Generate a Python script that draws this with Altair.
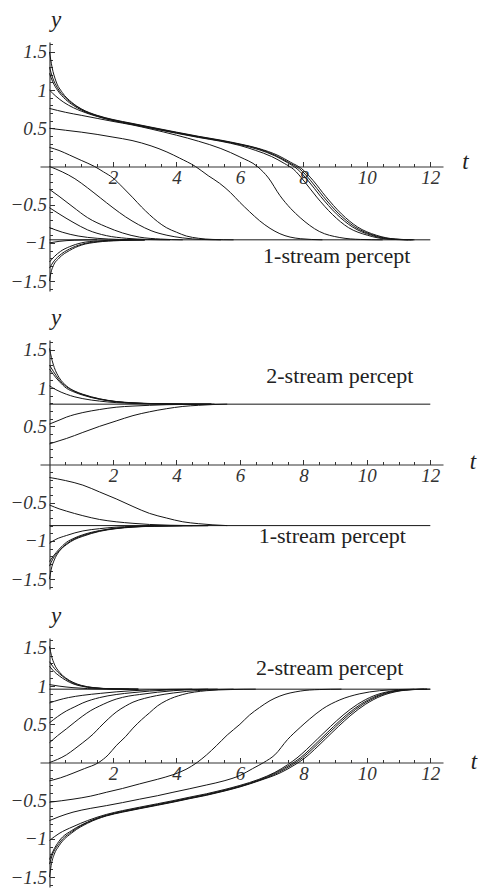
import altair as alt
import pandas as pd

# ------------------------------------------------------------------ data
# Panel 1 : drift towards the 1-stream percept (y ~ -0.96)
P1_EQ = [(0, -0.96), (12, -0.96)]
P1_A = [(0, 1.5), (0.08, 1.3), (0.2, 1.12), (0.4, 0.97), (0.7, 0.84), (1.0, 0.755), (1.5, 0.67), (2.0, 0.615),
        (2.6, 0.565), (3.2, 0.515), (4.0, 0.45), (4.7, 0.395), (5.4, 0.345), (6.0, 0.295), (6.6, 0.235),
        (7.2, 0.145), (7.6, 0.055), (7.95, -0.03), (8.3, -0.18), (8.7, -0.39), (9.2, -0.62), (9.7, -0.79),
        (10.3, -0.9), (10.9, -0.95), (11.5, -0.96)]
P1_B = [(0, 1.3), (0.1, 1.16), (0.25, 1.03), (0.5, 0.9), (0.75, 0.815), (1.0, 0.75), (1.5, 0.665), (2.0, 0.61),
        (2.6, 0.56), (3.2, 0.51), (4.0, 0.445), (4.7, 0.39), (5.4, 0.34), (6.0, 0.29), (6.6, 0.23),
        (7.15, 0.14), (7.55, 0.05), (7.88, -0.03), (8.22, -0.18), (8.62, -0.39), (9.12, -0.62), (9.62, -0.79),
        (10.22, -0.9), (10.82, -0.95), (11.45, -0.96)]
P1_C = [(0, 1.22), (0.1, 1.11), (0.25, 1.0), (0.5, 0.88), (0.75, 0.8), (1.0, 0.74), (1.5, 0.66), (2.0, 0.605),
        (2.6, 0.555), (3.2, 0.505), (4.0, 0.44), (4.7, 0.385), (5.4, 0.335), (6.0, 0.285), (6.6, 0.22),
        (7.1, 0.14), (7.5, 0.05), (7.8, -0.03), (8.14, -0.18), (8.54, -0.39), (9.04, -0.62), (9.54, -0.79),
        (10.14, -0.9), (10.74, -0.95), (11.4, -0.96)]
P1_D = [(0, 1.0), (0.2, 0.92), (0.45, 0.84), (0.75, 0.77), (1.0, 0.725), (1.5, 0.655), (2.0, 0.6), (2.6, 0.55),
        (3.2, 0.5), (4.0, 0.435), (4.7, 0.38), (5.4, 0.33), (6.0, 0.275), (6.5, 0.21), (7.0, 0.13), (7.4, 0.04),
        (7.7, -0.04), (8.02, -0.19), (8.42, -0.4), (8.92, -0.63), (9.42, -0.8), (10.02, -0.9), (10.62, -0.95),
        (11.3, -0.96)]
P1_E = [(0, 0.76), (0.5, 0.71), (1.0, 0.67), (1.5, 0.63), (2.0, 0.59), (2.6, 0.545), (3.2, 0.49), (4.0, 0.41),
        (4.7, 0.33), (5.4, 0.235), (6.0, 0.125), (6.55, 0.0), (6.9, -0.15), (7.26, -0.38), (7.6, -0.55),
        (7.9, -0.67), (8.5, -0.85), (9.15, -0.93), (9.8, -0.955), (10.5, -0.96)]
P1_F = [(0, 0.5), (0.5, 0.475), (1.0, 0.45), (1.5, 0.42), (2.0, 0.385), (2.6, 0.34), (3.2, 0.27), (3.7, 0.19),
        (4.1, 0.11), (4.6, 0.0), (5.0, -0.12), (5.36, -0.22), (5.7, -0.34), (6.0, -0.47), (6.3, -0.59),
        (6.62, -0.71), (6.95, -0.81), (7.26, -0.88), (7.9, -0.945), (8.6, -0.96)]
P1_G = [(0, 0.25), (0.3, 0.21), (0.63, 0.15), (1.0, 0.08), (1.42, 0.0), (1.7, -0.07), (2.0, -0.15),
        (2.3, -0.27), (2.63, -0.41), (2.9, -0.53), (3.15, -0.63), (3.4, -0.72), (3.68, -0.8), (4.0, -0.86),
        (4.31, -0.91), (4.7, -0.94), (5.15, -0.955), (5.8, -0.96)]
P1_H = [(0, 0.0), (0.4, -0.07), (0.8, -0.16), (1.2, -0.28), (1.6, -0.41), (2.0, -0.54), (2.4, -0.66),
        (2.8, -0.76), (3.2, -0.84), (3.7, -0.9), (4.2, -0.935), (4.8, -0.955), (5.4, -0.96)]
P1_I = [(0, -0.3), (0.3, -0.39), (0.74, -0.53), (1.2, -0.67), (1.79, -0.79), (2.3, -0.87), (2.84, -0.925),
        (3.5, -0.95), (4.2, -0.96)]
P1_J = [(0, -0.54), (0.3, -0.62), (0.74, -0.73), (1.2, -0.83), (1.79, -0.905), (2.42, -0.94), (3.1, -0.955),
        (3.8, -0.96)]
P1_K = [(0, -0.8), (0.4, -0.86), (0.9, -0.91), (1.5, -0.94), (2.2, -0.955), (3.0, -0.96)]
P1_L = [(0, -1.0), (0.3, -0.98), (0.8, -0.965), (1.5, -0.96)]
P1_M = [(0, -1.25), (0.15, -1.18), (0.35, -1.11), (0.63, -1.05), (1.0, -1.0), (1.5, -0.975), (2.2, -0.963),
        (3.0, -0.96)]
P1_N = [(0, -1.33), (0.12, -1.25), (0.3, -1.17), (0.63, -1.08), (1.0, -1.02), (1.5, -0.983), (2.2, -0.966),
        (3.0, -0.96)]
P1_O = [(0, -1.5), (0.04, -1.4), (0.12, -1.3), (0.3, -1.2), (0.63, -1.1), (1.0, -1.03), (1.5, -0.99),
        (2.2, -0.97), (3.0, -0.96)]

# Panel 2 : two stable percepts (y ~ +0.79 and y ~ -0.80)
P2_EQ_UP = [(0, 0.79), (12, 0.79)]
P2_EQ_DN = [(0, -0.8), (12, -0.8)]
P2_A = [(0, 1.52), (0.06, 1.4), (0.15, 1.27), (0.3, 1.14), (0.53, 1.03), (0.8, 0.96), (1.05, 0.92),
        (1.58, 0.86), (2.1, 0.825), (2.63, 0.808), (3.3, 0.797), (4.2, 0.792), (5.1, 0.79)]
P2_B = [(0, 1.3), (0.12, 1.22), (0.3, 1.11), (0.53, 1.02), (0.8, 0.955), (1.05, 0.915), (1.58, 0.857),
        (2.1, 0.823), (2.63, 0.806), (3.3, 0.796), (4.2, 0.791), (5.1, 0.79)]
P2_C = [(0, 1.25), (0.12, 1.18), (0.3, 1.09), (0.53, 1.0), (0.8, 0.945), (1.05, 0.908), (1.58, 0.853),
        (2.1, 0.82), (2.63, 0.805), (3.3, 0.795), (4.2, 0.791), (5.1, 0.79)]
P2_D = [(0, 1.03), (0.2, 0.98), (0.53, 0.92), (0.8, 0.885), (1.05, 0.862), (1.58, 0.83), (2.1, 0.81),
        (2.63, 0.8), (3.3, 0.794), (4.2, 0.79)]
P2_E = [(0, 0.53), (0.3, 0.58), (0.53, 0.62), (0.8, 0.655), (1.05, 0.68), (1.58, 0.72), (2.1, 0.75),
        (2.63, 0.765), (3.15, 0.775), (3.7, 0.783), (4.5, 0.788), (5.2, 0.79)]
P2_F = [(0, 0.27), (0.3, 0.31), (0.53, 0.34), (1.05, 0.42), (1.58, 0.5), (2.1, 0.57), (2.63, 0.64),
        (3.15, 0.69), (3.68, 0.73), (4.2, 0.76), (4.7, 0.775), (5.15, 0.785), (5.6, 0.79)]
P2_G = [(0, -0.17), (0.5, -0.21), (1.05, -0.27), (1.58, -0.36), (2.1, -0.45), (2.63, -0.55), (3.15, -0.64),
        (3.68, -0.7), (4.2, -0.75), (4.7, -0.775), (5.15, -0.79), (5.6, -0.8)]
P2_H = [(0, -0.53), (0.3, -0.58), (0.53, -0.61), (1.05, -0.67), (1.58, -0.72), (2.1, -0.75), (2.63, -0.77),
        (3.15, -0.785), (3.8, -0.795), (4.5, -0.8)]
P2_I = [(0, -1.03), (0.2, -0.98), (0.53, -0.93), (0.8, -0.895), (1.05, -0.87), (1.58, -0.84), (2.1, -0.82),
        (2.63, -0.81), (3.3, -0.803), (4.2, -0.8)]
P2_J = [(0, -1.27), (0.12, -1.2), (0.3, -1.11), (0.53, -1.02), (0.8, -0.96), (1.05, -0.92), (1.58, -0.865),
        (2.1, -0.833), (2.63, -0.815), (3.3, -0.806), (4.2, -0.801), (5.0, -0.8)]
P2_K = [(0, -1.33), (0.1, -1.24), (0.3, -1.13), (0.53, -1.04), (0.8, -0.97), (1.05, -0.93), (1.58, -0.87),
        (2.1, -0.836), (2.63, -0.817), (3.3, -0.807), (4.2, -0.801), (5.0, -0.8)]
P2_L = [(0, -1.5), (0.05, -1.38), (0.15, -1.25), (0.3, -1.14), (0.53, -1.05), (0.8, -0.98), (1.05, -0.94),
        (1.58, -0.875), (2.1, -0.84), (2.63, -0.82), (3.3, -0.808), (4.2, -0.802), (5.0, -0.8)]

# Panel 3 : drift towards the 2-stream percept (y ~ +0.96)
P3_EQ = [(0, 0.96), (12, 0.96)]
P3_A = [(0, 1.52), (0.06, 1.4), (0.15, 1.29), (0.32, 1.18), (0.5, 1.11), (0.74, 1.05), (1.0, 1.01),
        (1.4, 0.98), (2.0, 0.965), (2.8, 0.96)]
P3_B = [(0, 1.32), (0.1, 1.26), (0.32, 1.16), (0.5, 1.1), (0.74, 1.04), (1.0, 1.005), (1.4, 0.978),
        (2.0, 0.964), (2.8, 0.96)]
P3_C = [(0, 1.26), (0.1, 1.21), (0.32, 1.13), (0.5, 1.08), (0.74, 1.03), (1.0, 1.0), (1.4, 0.975),
        (2.0, 0.963), (2.8, 0.96)]
P3_D = [(0, 1.02), (0.3, 1.0), (0.74, 0.98), (1.2, 0.968), (1.8, 0.962), (2.5, 0.96)]
P3_E = [(0, 0.78), (0.3, 0.82), (0.6, 0.85), (1.05, 0.88), (1.6, 0.905), (2.1, 0.925), (2.6, 0.94),
        (3.15, 0.95), (3.8, 0.957), (4.5, 0.96)]
P3_F = [(0, 0.52), (0.25, 0.6), (0.53, 0.675), (0.8, 0.73), (1.05, 0.78), (1.58, 0.85), (2.1, 0.89),
        (2.63, 0.915), (3.15, 0.935), (3.68, 0.948), (4.3, 0.956), (5.0, 0.96)]
P3_G = [(0, 0.26), (0.25, 0.35), (0.53, 0.44), (0.8, 0.53), (1.05, 0.61), (1.3, 0.68), (1.58, 0.74),
        (2.1, 0.83), (2.5, 0.87), (2.84, 0.89), (3.4, 0.92), (3.9, 0.94), (4.6, 0.955), (5.3, 0.96)]
P3_H = [(0, 0.0), (0.25, 0.04), (0.53, 0.1), (0.8, 0.18), (1.05, 0.26), (1.37, 0.37), (1.58, 0.46),
        (1.85, 0.57), (2.1, 0.66), (2.4, 0.74), (2.63, 0.79), (3.0, 0.84), (3.37, 0.875), (3.9, 0.91),
        (4.31, 0.93), (5.0, 0.95), (5.8, 0.96)]
P3_I = [(0, -0.24), (0.35, -0.2), (0.74, -0.14), (1.1, -0.08), (1.55, 0.0), (1.85, 0.1), (2.1, 0.22),
        (2.4, 0.34), (2.63, 0.45), (2.9, 0.56), (3.15, 0.65), (3.4, 0.74), (3.68, 0.81), (4.2, 0.89),
        (4.94, 0.94), (5.7, 0.955), (6.5, 0.96)]
P3_J = [(0, -0.52), (0.74, -0.48), (1.3, -0.44), (1.79, -0.39), (2.3, -0.34), (2.84, -0.28), (3.4, -0.22),
        (3.89, -0.16), (4.3, -0.09), (4.65, 0.0), (4.95, 0.1), (5.26, 0.22), (5.6, 0.36), (6.0, 0.5),
        (6.3, 0.62), (6.62, 0.72), (6.95, 0.81), (7.26, 0.87), (7.9, 0.935), (8.5, 0.955), (9.2, 0.96)]
P3_K = [(0, -0.76), (0.3, -0.71), (0.74, -0.65), (1.3, -0.6), (1.79, -0.565), (2.3, -0.525), (2.84, -0.48),
        (3.4, -0.435), (3.89, -0.39), (4.4, -0.345), (4.94, -0.295), (5.5, -0.24), (6.0, -0.17),
        (6.4, -0.08), (6.75, 0.0), (7.1, 0.1), (7.5, 0.3), (7.9, 0.46), (8.2, 0.57), (8.6, 0.7),
        (9.15, 0.82), (9.78, 0.9), (10.4, 0.94), (11.0, 0.955), (11.5, 0.96)]
P3_W = [(0, -1.02), (0.3, -0.93), (0.74, -0.84), (1.2, -0.76), (1.79, -0.68), (2.3, -0.63), (2.84, -0.585),
        (3.4, -0.54), (3.89, -0.5), (4.4, -0.455), (4.94, -0.41), (5.5, -0.355), (6.0, -0.3), (6.6, -0.22),
        (7.1, -0.13), (7.5, -0.03), (7.8, 0.06), (8.1, 0.17), (8.45, 0.31), (8.85, 0.47), (9.25, 0.62),
        (9.7, 0.76), (10.2, 0.87), (10.7, 0.93), (11.3, 0.955), (11.8, 0.96)]
P3_X = [(0, -1.27), (0.1, -1.17), (0.3, -1.03), (0.74, -0.88), (1.2, -0.78), (1.79, -0.69), (2.3, -0.64),
        (2.84, -0.595), (3.4, -0.55), (3.89, -0.51), (4.4, -0.465), (4.94, -0.42), (5.5, -0.365),
        (6.0, -0.31), (6.6, -0.23), (7.15, -0.13), (7.58, -0.03), (7.9, 0.06), (8.2, 0.17), (8.55, 0.31),
        (8.95, 0.47), (9.35, 0.62), (9.8, 0.76), (10.3, 0.87), (10.8, 0.93), (11.4, 0.955), (11.9, 0.96)]
P3_Y = [(0, -1.33), (0.08, -1.22), (0.3, -1.06), (0.74, -0.895), (1.2, -0.785), (1.79, -0.695), (2.3, -0.645),
        (2.84, -0.6), (3.4, -0.555), (3.89, -0.515), (4.4, -0.47), (4.94, -0.425), (5.5, -0.37),
        (6.0, -0.315), (6.6, -0.235), (7.22, -0.13), (7.65, -0.03), (7.97, 0.06), (8.27, 0.17), (8.62, 0.31),
        (9.02, 0.47), (9.42, 0.62), (9.87, 0.76), (10.37, 0.87), (10.87, 0.93), (11.45, 0.955), (11.9, 0.96)]
P3_Z = [(0, -1.5), (0.05, -1.35), (0.15, -1.2), (0.3, -1.09), (0.74, -0.91), (1.2, -0.795), (1.79, -0.7),
        (2.3, -0.65), (2.84, -0.605), (3.4, -0.56), (3.89, -0.52), (4.4, -0.475), (4.94, -0.43), (5.5, -0.375),
        (6.0, -0.32), (6.6, -0.24), (7.3, -0.13), (7.73, -0.03), (8.05, 0.06), (8.35, 0.17), (8.7, 0.31),
        (9.1, 0.47), (9.5, 0.62), (9.95, 0.76), (10.45, 0.87), (10.95, 0.93), (11.5, 0.955), (12.0, 0.96)]

# annotations (text, t, y)
P1_TEXT = [("1-stream percept", 9.05, -1.257)]
P2_TEXT = [("2-stream percept", 9.15, 1.07), ("1-stream percept", 8.91, -1.025)]
P3_TEXT = [("2-stream percept", 8.83, 1.148)]

X_LABELS = [2, 4, 6, 8, 10, 12]
X_MINOR = [0.5 * i for i in range(1, 25)]
Y_LABELS = [-1.5, -1, -0.5, 0.5, 1, 1.5]
Y_MINOR = [round(0.1 * i, 1) for i in range(-16, 17) if i != 0]

# ------------------------------------------------------------------ layout
W, H = 403, 249
T_DOM = [-0.3, 12.4]
Y_DOM = [-1.63, 1.63]
Y0 = 9.5           # pixel position of t = 0 inside the plot area
AX = "#333333"
LINE = "#151515"
SERIF = "Liberation Serif, Times New Roman, serif"


def curves_df(curves):
    rows = []
    for cid, pts in curves.items():
        for k, (t, v) in enumerate(pts):
            rows.append({"c": cid, "k": k, "t": t, "v": v})
    return pd.DataFrame(rows)


def panel(curves, texts, t_dx, t_dy):
    df = curves_df(curves)
    xs = alt.Scale(domain=T_DOM, nice=False, zero=False)
    ys = alt.Scale(domain=Y_DOM, nice=False, zero=False)

    lines = alt.Chart(df).mark_line(color=LINE, strokeWidth=1, interpolate="monotone").encode(
        x=alt.X("t:Q", scale=xs, axis=alt.Axis(
            orient="bottom", offset=-H / 2, values=X_LABELS, ticks=False, tickSize=0,
            domain=True, domainColor=AX, domainWidth=1.2, grid=False, title=None,
            labelFont=SERIF, labelFontStyle="italic", labelFontSize=19, labelColor="#333",
            labelPadding=2, labelFlush=False, labelOverlap=False)),
        y=alt.Y("v:Q", scale=ys, axis=alt.Axis(
            orient="left", offset=-Y0, values=Y_LABELS, ticks=False, tickSize=0,
            domain=True, domainColor=AX, domainWidth=1.2, grid=False, title=None,
            labelExpr="replace(format(datum.value, ''), '-', '\u2212')",
            labelFont=SERIF, labelFontStyle="italic", labelFontSize=19, labelColor="#333",
            labelPadding=3, labelFlush=False, labelOverlap=False)),
        detail="c:N",
        order="k:Q",
    )

    ticks = alt.Chart(df).mark_point(opacity=0).encode(
        x=alt.X("t:Q", scale=xs, axis=alt.Axis(
            orient="top", offset=-H / 2, values=X_MINOR, labels=False, domain=False, grid=False,
            title=None, tickColor=AX, tickWidth=1,
            tickSize={"condition": {"test": "datum.value % 2 === 0", "value": 5}, "value": 3})),
        y=alt.Y("v:Q", scale=ys, axis=alt.Axis(
            orient="right", offset=-(W - Y0), values=Y_MINOR, labels=False, domain=False, grid=False,
            title=None, tickColor=AX, tickWidth=1,
            tickSize={"condition": {"test": "abs(round(datum.value * 10)) % 5 === 0", "value": 5},
                      "value": 3})),
    )

    tdf = pd.DataFrame([{"s": s, "t": t, "v": v} for s, t, v in texts])
    notes = alt.Chart(tdf).mark_text(font=SERIF, fontSize=22, color="#222", align="center",
                                     baseline="alphabetic").encode(
        x=alt.X("t:Q", scale=xs, axis=None),
        y=alt.Y("v:Q", scale=ys, axis=None),
        text="s:N",
    )

    ylab = alt.Chart(pd.DataFrame({"s": ["y"]})).mark_text(
        font=SERIF, fontSize=23, fontStyle="italic", color="#222", align="center", baseline="alphabetic"
    ).encode(x=alt.value(16), y=alt.value(-15), text="s:N")

    tlab = alt.Chart(pd.DataFrame({"s": ["t"]})).mark_text(
        font=SERIF, fontSize=23, fontStyle="italic", color="#222", align="center", baseline="alphabetic"
    ).encode(x=alt.value(t_dx), y=alt.value(H / 2 + t_dy), text="s:N")

    return alt.layer(lines, ticks, notes, ylab, tlab).resolve_axis(
        x="independent", y="independent").properties(width=W, height=H)


p1 = panel({"eq": P1_EQ, "a": P1_A, "b": P1_B, "c": P1_C, "d": P1_D, "e": P1_E, "f": P1_F, "g": P1_G,
            "h": P1_H, "i": P1_I, "j": P1_J, "k": P1_K, "l": P1_L, "m": P1_M, "n": P1_N, "o": P1_O},
           P1_TEXT, 425.5, 2.5)
p2 = panel({"eu": P2_EQ_UP, "ed": P2_EQ_DN, "a": P2_A, "b": P2_B, "c": P2_C, "d": P2_D, "e": P2_E, "f": P2_F,
            "g": P2_G, "h": P2_H, "i": P2_I, "j": P2_J, "k": P2_K, "l": P2_L},
           P2_TEXT, 433, 4)
p3 = panel({"eq": P3_EQ, "a": P3_A, "b": P3_B, "c": P3_C, "d": P3_D, "e": P3_E, "f": P3_F, "g": P3_G,
            "h": P3_H, "i": P3_I, "j": P3_J, "k": P3_K, "w": P3_W, "x": P3_X, "y": P3_Y, "z": P3_Z},
           P3_TEXT, 434, 6)

chart = alt.vconcat(p1, p2, p3, spacing=49, bounds="flush").properties(
    padding={"left": 9, "top": 9, "right": 0, "bottom": 0}
).configure(background="white").configure_view(stroke=None)

chart.save("out.html", embed_options={"renderer": "svg", "actions": False})
